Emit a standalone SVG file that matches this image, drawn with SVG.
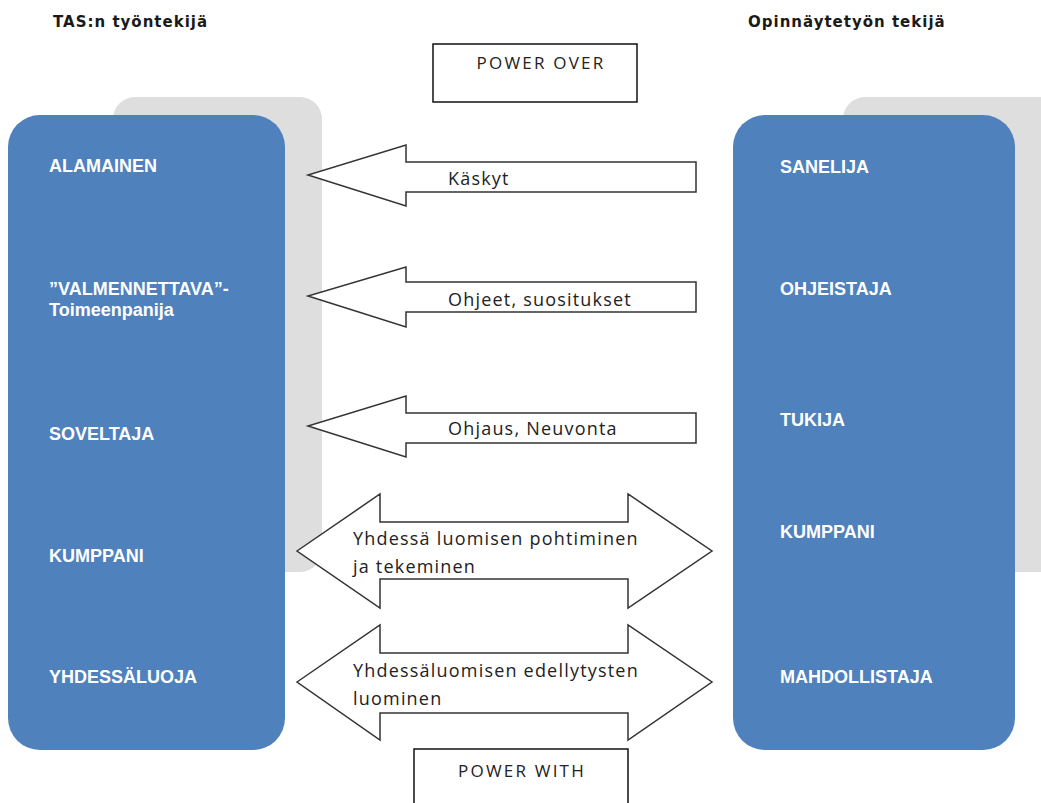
<svg xmlns="http://www.w3.org/2000/svg" width="1041" height="803" viewBox="0 0 1041 803">
<style>
.bg{fill:#dedede}
.blue{fill:#4f81bd}
.lbl{font-family:"Liberation Sans",Arial,sans-serif;font-size:18px;font-weight:bold;fill:#ffffff}
.hdr{font-family:"DejaVu Sans",Verdana,sans-serif;font-size:15px;font-weight:bold;letter-spacing:1px;fill:#1a1a1a}
.arr{fill:#ffffff;stroke:#333333;stroke-width:1.5;stroke-linejoin:miter}
.atx{font-family:"Open Sans","Noto Sans",sans-serif;font-size:18px;letter-spacing:1.2px;fill:#222222}
.box{fill:#ffffff;stroke:#111111;stroke-width:1.5}
.btx{font-family:"Open Sans","Noto Sans",sans-serif;font-size:17px;letter-spacing:2.2px;fill:#222222}
</style>
<rect width="1041" height="803" fill="#ffffff"/>
<g id="header-left"><text class="hdr" x="53" y="27">TAS:n työntekijä</text></g>
<g id="header-right"><text class="hdr" x="748" y="27">Opinnäytetyön tekijä</text></g>
<g id="power-over"><rect class="box" x="433" y="44" width="204" height="58"/><text class="btx" x="541" y="69" text-anchor="middle">POWER OVER</text></g>
<g id="left-column">
<rect class="bg" x="113" y="97" width="209" height="475" rx="22"/>
<rect class="blue" x="8" y="115" width="277" height="635" rx="32"/>
<text class="lbl" x="49" y="172">ALAMAINEN</text>
<text class="lbl" x="49" y="295">”VALMENNETTAVA”-</text>
<text class="lbl" x="49" y="316">Toimeenpanija</text>
<text class="lbl" x="49" y="440">SOVELTAJA</text>
<text class="lbl" x="49" y="562">KUMPPANI</text>
<text class="lbl" x="49" y="683">YHDESSÄLUOJA</text>
</g>
<g id="right-column">
<rect class="bg" x="843" y="97" width="220" height="475" rx="22"/>
<rect class="blue" x="733" y="115" width="282" height="635" rx="32"/>
<text class="lbl" x="780" y="173">SANELIJA</text>
<text class="lbl" x="780" y="295">OHJEISTAJA</text>
<text class="lbl" x="780" y="426">TUKIJA</text>
<text class="lbl" x="780" y="538">KUMPPANI</text>
<text class="lbl" x="780" y="683">MAHDOLLISTAJA</text>
</g>
<g id="connectors">
<g id="arrow-kaskyt"><polygon class="arr" points="696,162 406,162 406,145 308,175 406,206 406,192 696,192"/><text class="atx" x="448" y="185">Käskyt</text></g>
<g id="arrow-ohjeet"><polygon class="arr" points="696,282 406,282 406,267 308,296 406,327 406,312 696,312"/><text class="atx" x="448" y="306">Ohjeet, suositukset</text></g>
<g id="arrow-ohjaus"><polygon class="arr" points="696,413 406,413 406,396 308,426 406,457 406,443 696,443"/><text class="atx" x="448" y="435">Ohjaus, Neuvonta</text></g>
<g id="arrow-yhdessa"><polygon class="arr" points="297,551 380,494 380,522 628,522 628,494 712,551 628,608 628,579 380,579 380,608"/><text class="atx" x="353" y="545">Yhdessä luomisen pohtiminen</text><text class="atx" x="353" y="573">ja tekeminen</text></g>
<g id="arrow-edellytys"><polygon class="arr" points="297,682 380,625 380,653 628,653 628,625 712,682 628,740 628,713 380,713 380,740"/><text class="atx" x="353" y="677">Yhdessäluomisen edellytysten</text><text class="atx" x="353" y="705">luominen</text></g>
</g>
<g id="power-with"><rect class="box" x="414" y="749" width="214" height="70"/><text class="btx" x="522" y="777" text-anchor="middle">POWER WITH</text></g>
</svg>
